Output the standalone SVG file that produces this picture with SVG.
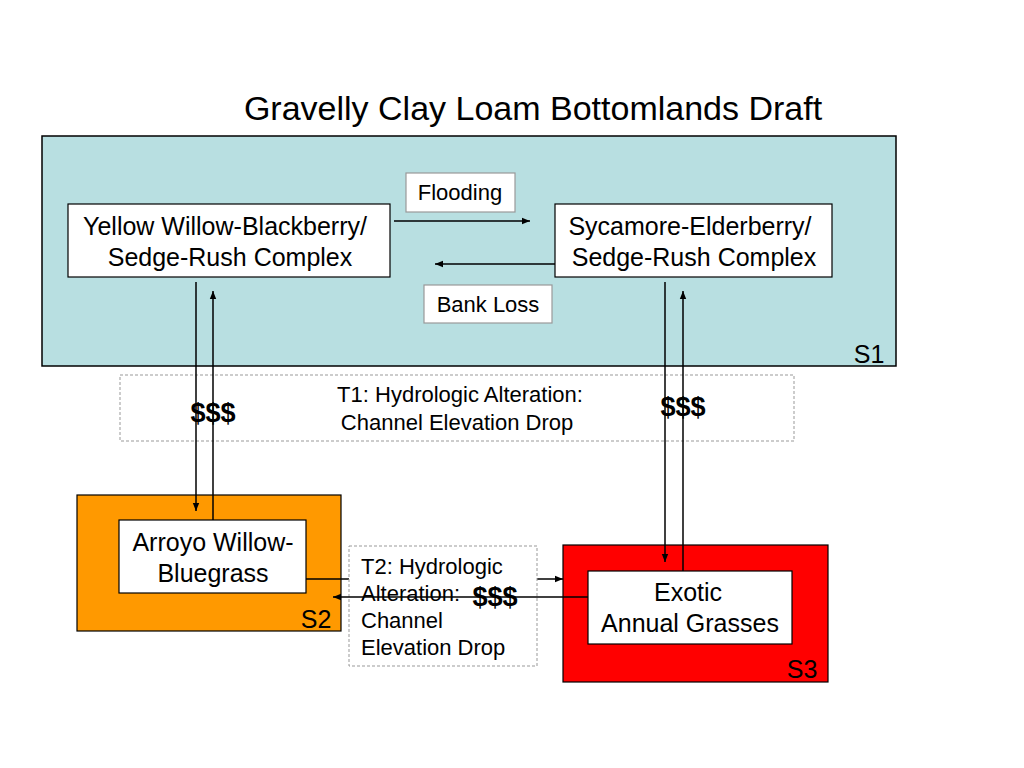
<svg xmlns="http://www.w3.org/2000/svg" width="1024" height="768" viewBox="0 0 1024 768">
<style>
text{font-family:"Liberation Sans",Arial,sans-serif;fill:#000}
.node{fill:#fff;stroke:#000;stroke-width:1.2}
.lbl{fill:#fff;stroke:#999;stroke-width:1.2}
.dash{fill:#fff;stroke:#999;stroke-width:1;stroke-dasharray:3,2}
.t25{font-size:25px}
.t22{font-size:22px}
.big{font-size:27px;font-weight:bold}
.conn line{stroke:#000;stroke-width:1.5}
</style>
<defs>
<marker id="ah" viewBox="0 0 10 10" refX="10" refY="5" markerWidth="8" markerHeight="8" orient="auto" markerUnits="userSpaceOnUse">
<path d="M0,1 L10,5 L0,9 z" fill="#000"/>
</marker>
</defs>
<rect width="1024" height="768" fill="#fff"/>
<text x="533" y="120" font-size="34" text-anchor="middle">Gravelly Clay Loam Bottomlands Draft</text>

<g id="S1">
<rect x="42" y="136" width="854" height="230" fill="#b8dfe1" stroke="#000" stroke-width="1.5"/>
<text x="869" y="363" class="t25" text-anchor="middle">S1</text>
</g>
<g id="S2">
<rect x="77" y="495" width="264" height="136" fill="#ff9900" stroke="#000" stroke-width="1.2"/>
<text x="316" y="628" class="t25" text-anchor="middle">S2</text>
</g>
<g id="S3">
<rect x="563" y="545" width="265" height="137" fill="#ff0000" stroke="#000" stroke-width="1.2"/>
<text x="802" y="678" class="t25" text-anchor="middle">S3</text>
</g>

<g id="T1">
<rect x="120" y="375" width="674" height="66" class="dash"/>
<text x="460" y="402" class="t22" text-anchor="middle">T1: Hydrologic Alteration:</text>
<text x="457" y="430" class="t22" text-anchor="middle">Channel Elevation Drop</text>
</g>

<g id="yellow-willow">
<rect x="68" y="204" width="322" height="73" class="node"/>
<text x="225" y="235" class="t25" text-anchor="middle">Yellow Willow-Blackberry/</text>
<text x="230" y="266" class="t25" text-anchor="middle">Sedge-Rush Complex</text>
</g>
<g id="sycamore">
<rect x="555" y="204" width="277" height="73" class="node"/>
<text x="690" y="235" class="t25" text-anchor="middle">Sycamore-Elderberry/</text>
<text x="694" y="266" class="t25" text-anchor="middle">Sedge-Rush Complex</text>
</g>
<g id="flooding">
<rect x="406" y="173" width="109" height="39" class="lbl"/>
<text x="460" y="200" class="t22" text-anchor="middle">Flooding</text>
</g>
<g id="bank-loss">
<rect x="424" y="285" width="128" height="38" class="lbl"/>
<text x="488" y="312" class="t22" text-anchor="middle">Bank Loss</text>
</g>
<g id="arroyo">
<rect x="119" y="520" width="187" height="73" class="node"/>
<text x="213" y="551" class="t25" text-anchor="middle">Arroyo Willow-</text>
<text x="213" y="582" class="t25" text-anchor="middle">Bluegrass</text>
</g>
<g id="exotic">
<rect x="588" y="571" width="204" height="73" class="node"/>
<text x="688" y="601" class="t25" text-anchor="middle">Exotic</text>
<text x="690" y="632" class="t25" text-anchor="middle">Annual Grasses</text>
</g>

<g class="conn" id="connectors">
<line x1="394" y1="221" x2="530" y2="221" marker-end="url(#ah)"/>
<line x1="555" y1="264" x2="435" y2="264" marker-end="url(#ah)"/>
<line x1="196" y1="282" x2="196" y2="511" marker-end="url(#ah)"/>
<line x1="213" y1="520" x2="213" y2="291" marker-end="url(#ah)"/>
<line x1="665" y1="282" x2="665" y2="562" marker-end="url(#ah)"/>
<line x1="683" y1="571" x2="683" y2="291" marker-end="url(#ah)"/>
<line x1="306" y1="579" x2="563" y2="579" marker-end="url(#ah)"/>
</g>

<g id="T2">
<rect x="349" y="546" width="188" height="120" class="dash"/>
<text x="361" y="574" class="t22">T2: Hydrologic</text>
<text x="361" y="601" class="t22">Alteration:</text>
<text x="361" y="628" class="t22">Channel</text>
<text x="361" y="655" class="t22">Elevation Drop</text>
</g>
<g class="conn">
<line x1="588" y1="597" x2="333" y2="597" marker-end="url(#ah)"/>
</g>

<text x="213" y="422" class="big" text-anchor="middle">$$$</text>
<text x="683" y="416" class="big" text-anchor="middle">$$$</text>
<text x="495" y="606" class="big" text-anchor="middle">$$$</text>
</svg>
